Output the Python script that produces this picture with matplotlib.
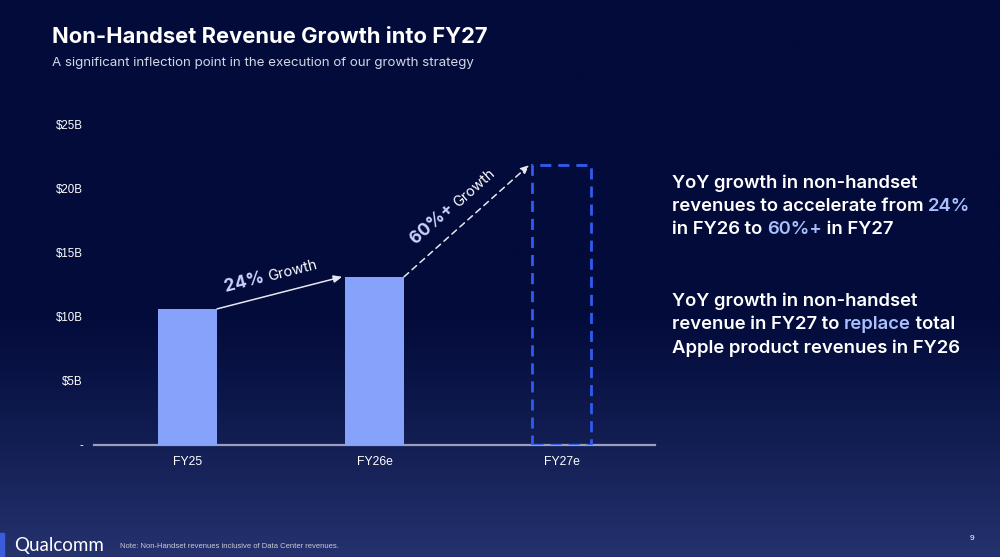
import numpy as np
import matplotlib
matplotlib.use("Agg")
import matplotlib.pyplot as plt
from matplotlib.patches import Rectangle

# data
years = ["FY25", "FY26e", "FY27e"]
revenue = [10.6, 13.1, 21.8]          # $B
growth_pct = ["24%", "60%+"]
yticks = [0, 5, 10, 15, 20, 25]
ytick_labels = ["-", "$5B", "$10B", "$15B", "$20B", "$25B"]

W, H = 1000, 557
fig = plt.figure(figsize=(W / 100, H / 100), dpi=100)

def fx(x):
    return x / W

def fy(y):
    return 1 - y / H

# background gradient
bg = fig.add_axes([0, 0, 1, 1], zorder=-10)
t = np.linspace(0, 1, 300)
prof = np.clip((t - 0.55) / 0.45, 0, 1) ** 1.2
top = np.array([2, 11, 58]) / 255
bot = np.array([37, 50, 110]) / 255
grad = top[None, :] * (1 - prof[:, None]) + bot[None, :] * prof[:, None]
bg.imshow(grad[:, None, :], aspect="auto", extent=[0, 1, 0, 1])
bg.axis("off")

fig.text(fx(52), fy(37), "Non-Handset Revenue Growth into FY27", color="white",
         fontsize=15.8, fontweight="bold", family="Inter", va="center")
fig.text(fx(52), fy(63), "A significant inflection point in the execution of our growth strategy",
         color="#d3d7e6", fontsize=9.6, family="Inter", va="center")

# chart
ax = fig.add_axes([fx(94), fy(445), fx(655) - fx(94), fy(124) - fy(445)])
ax.set_facecolor("none")
x = np.arange(len(years))
bw = 0.316
ax.bar(x[:2], revenue[:2], width=bw, color="#87a2fa", zorder=3)
ax.bar(x[2], revenue[2], width=bw, facecolor="none", edgecolor="#2f5cf0",
       linewidth=2, linestyle=(0, (4, 2.5)), zorder=3)
ax.set_xlim(-0.5, 2.5)
ax.set_ylim(0, 25)
ax.set_xticks(x, years)
ax.set_yticks(yticks, ytick_labels)
for s in ["top", "left", "right"]:
    ax.spines[s].set_visible(False)
ax.spines["bottom"].set_color("#9aa0ba")
ax.spines["bottom"].set_linewidth(1.6)
ax.spines["bottom"].set_zorder(2)
ax.tick_params(axis="y", length=0, pad=8, labelsize=8.3, labelcolor="white")
ax.tick_params(axis="x", length=0, pad=8, labelsize=8.8, labelcolor="white")
for lab in ax.get_xticklabels() + ax.get_yticklabels():
    lab.set_family("Liberation Sans")

# growth arrows between bar tops
styles = ["-", (0, (4, 3))]
for i in range(2):
    x0, y0 = x[i] + bw / 2, revenue[i]
    x1, y1 = x[i + 1] - bw / 2 - 0.015, revenue[i + 1]
    ax.annotate("", xy=(x1, y1), xytext=(x0, y0),
                arrowprops=dict(arrowstyle="-|>,head_length=0.5,head_width=0.22",
                                color="#e6e8f0", lw=1.1, linestyle=styles[i],
                                shrinkA=0, shrinkB=0), zorder=4)
    p0 = ax.transData.transform((x0, y0))
    p1 = ax.transData.transform((x1, y1))
    ang = np.degrees(np.arctan2(p1[1] - p0[1], p1[0] - p0[0]))
    mx, my = (x0 + x1) / 2, (y0 + y1) / 2
    # offset perpendicular to the arrow, in points
    a = np.radians(ang)
    d = 10 if i == 0 else 11
    along = -5 if i == 0 else 2
    ox = -np.sin(a) * d + np.cos(a) * along
    oy = np.cos(a) * d + np.sin(a) * along
    ax.annotate(growth_pct[i] + " ", xy=(mx, my), xytext=(ox, oy), textcoords="offset points",
                ha="right", va="baseline", rotation=ang, rotation_mode="anchor",
                color="#c9d5ff", fontsize=12.5, fontweight="bold", family="Inter")
    ax.annotate("Growth", xy=(mx, my), xytext=(ox, oy), textcoords="offset points",
                ha="left", va="baseline", rotation=ang, rotation_mode="anchor",
                color="white", fontsize=10.5, family="Inter")

# right-hand commentary with highlighted words
hl = "#a9bfff"
def line(y, parts):
    prev = None
    for txt, col in parts:
        if prev is None:
            prev = fig.text(fx(672), fy(y), txt, color=col, fontsize=13.3,
                            fontweight="semibold", family="Inter", va="baseline")
        else:
            prev = fig.axes[1].annotate(txt, xy=(1, 0), xycoords=prev, color=col,
                                        fontsize=13.3, fontweight="semibold", family="Inter",
                                        va="bottom", ha="left", annotation_clip=False)

line(188, [("YoY growth in non-handset", "white")])
line(211, [("revenues to accelerate from ", "white"), ("24%", hl)])
line(234, [("in FY26 to ", "white"), ("60%+", hl), (" in FY27", "white")])
line(306, [("YoY growth in non-handset", "white")])
line(329, [("revenue in FY27 to ", "white"), ("replace", hl), (" total", "white")])
line(353, [("Apple product revenues in FY26", "white")])

# footer
fig.patches.append(Rectangle((0, 0), fx(4), fy(533), transform=fig.transFigure,
                             color="#3b5bdb", zorder=5))
fig.text(fx(14), fy(545), "Qualcomm", color="white", fontsize=13.5, family="Lato",
         va="center")
fig.text(fx(120), fy(546), "Note: Non-Handset revenues inclusive of Data Center revenues.",
         color="#c8cbd8", fontsize=5.5, family="Liberation Sans", va="center")
fig.text(fx(972), fy(538), "9", color="white", fontsize=6, family="Liberation Sans",
         va="center", ha="center")

fig.savefig("out.png", dpi=100)
